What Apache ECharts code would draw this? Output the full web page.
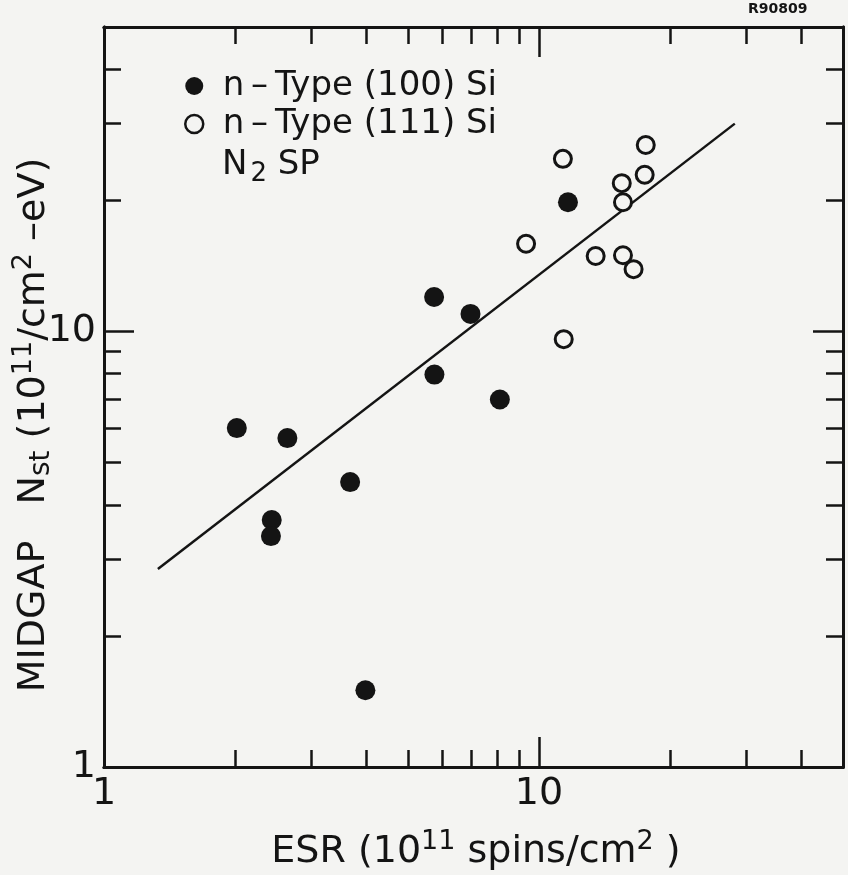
<!DOCTYPE html>
<html>
<head>
<meta charset="utf-8">
<script src="https://cdn.jsdelivr.net/npm/echarts@6/dist/echarts.min.js"></script>
<style>
html,body{margin:0;padding:0;background:#f4f4f2;}
#c{width:848px;height:875px;}
</style>
</head>
<body>
<div id="c"></div>
<script>
// ---- data ----
const seriesNames = ['n\u2009\u2013\u2009Type (100) Si', 'n\u2009\u2013\u2009Type (111) Si'];
const filledX = [2.02, 2.64, 3.68, 2.43, 2.42, 5.74, 6.96, 5.75, 8.13, 3.99, 11.66];
const filledY = [6.0, 5.69, 4.51, 3.69, 3.39, 12.0, 10.97, 7.96, 6.98, 1.50, 19.8];
const openX = [11.35, 17.6, 17.5, 15.5, 15.6, 9.34, 13.5, 15.6, 16.5, 11.4];
const openY = [24.9, 26.8, 22.9, 21.9, 19.8, 15.9, 14.9, 14.96, 13.9, 9.6];
const fitX = [1.33, 28.2];
const fitY = [2.85, 30.0];
const axisMin = 1, axisMax = 50;
const minorTicks = [2, 3, 4, 5, 6, 7, 8, 9, 20, 30, 40];
const majorTicks = [10];
const tickLabels = [1, 10];

const INK = '#141414';
const BG = '#f4f4f2';
const FONT = 'DejaVu Sans';
const pair = (xs, ys) => xs.map((x, i) => [x, ys[i]]);

function axisDef(position, tickVals, tickLen, withLabels) {
  return {
    type: 'log', logBase: 10, min: axisMin, max: axisMax, position: position,
    axisLine: { show: true, onZero: false, lineStyle: { color: INK, width: 3 } },
    axisTick: { show: true, inside: true, length: tickLen, customValues: tickVals,
                lineStyle: { color: INK, width: 2.5 } },
    axisLabel: withLabels ? { show: true, customValues: tickLabels, color: INK,
                fontSize: 38, fontFamily: FONT, margin: 8,
                formatter: v => String(Math.round(v)) } : { show: false },
    splitLine: { show: false }
  };
}

const chart = echarts.init(document.getElementById('c'), null, { renderer: 'canvas' });
chart.setOption({
  backgroundColor: BG,
  animation: false,
  grid: { left: 104, right: 5, top: 27, bottom: 108 },
  xAxis: [
    axisDef('bottom', minorTicks, 17, true),
    axisDef('bottom', majorTicks, 30, false),
    axisDef('top', minorTicks, 17, false),
    axisDef('top', majorTicks, 30, false)
  ],
  yAxis: [
    axisDef('left', minorTicks, 17, true),
    axisDef('left', majorTicks, 30, false),
    axisDef('right', minorTicks, 17, false),
    axisDef('right', majorTicks, 30, false)
  ],
  legend: {
    orient: 'vertical', left: 179, top: 64, itemWidth: 47, itemHeight: 18, itemGap: 4,
    selectedMode: false,
    textStyle: { color: INK, fontSize: 34, fontFamily: FONT },
    data: [
      { name: seriesNames[0], itemStyle: { color: INK, opacity: 1 } },
      { name: seriesNames[1], itemStyle: { color: BG, borderColor: INK, borderWidth: 2.5, opacity: 1 } }
    ]
  },
  series: [
    { type: 'line', data: pair(fitX, fitY), symbol: 'none', z: 1,
      lineStyle: { color: INK, width: 2.5, opacity: 1 }, silent: true },
    { name: seriesNames[0], type: 'scatter', data: pair(filledX, filledY), z: 3,
      symbol: 'circle', symbolSize: 20, itemStyle: { color: INK, opacity: 1 } },
    { name: seriesNames[1], type: 'scatter', data: pair(openX, openY), z: 3,
      symbol: 'circle', symbolSize: 17,
      itemStyle: { color: BG, borderColor: INK, borderWidth: 3, opacity: 1 } }
  ],
  graphic: [
    { type: 'text', left: 748, top: 2,
      style: { text: 'R90809', fill: INK, font: 'bold 14px ' + FONT } },
    { type: 'text', left: 222, top: 148,
      style: { text: '{t|N}{s|2}{t| SP}', fill: INK,
        rich: { t: { fontSize: 34, fontFamily: FONT, fill: INK },
                s: { fontSize: 26, fontFamily: FONT, fill: INK, padding: [18, 0, 0, 3] } } } },
    { type: 'text', x: 34, y: 425, rotation: Math.PI / 2,
      style: { text: '{t|MIDGAP   N}{s|st}{t| (10}{u|11}{t|/cm}{u|2}{t| \u2013eV)}',
        fill: INK, align: 'center', verticalAlign: 'middle',
        rich: { t: { fontSize: 38, fontFamily: FONT, fill: INK },
                s: { fontSize: 28, fontFamily: FONT, fill: INK, padding: [16, 0, 0, 0] },
                u: { fontSize: 27, fontFamily: FONT, fill: INK, padding: [0, 0, 20, 0] } } } },
    { type: 'text', x: 476, y: 852,
      style: { text: '{t|ESR (10}{u|11}{t| spins/cm}{u|2}{t| )}',
        fill: INK, align: 'center', verticalAlign: 'middle',
        rich: { t: { fontSize: 38, fontFamily: FONT, fill: INK },
                u: { fontSize: 27, fontFamily: FONT, fill: INK, padding: [0, 0, 20, 0] } } } }
  ]
});
</script>
</body>
</html>
